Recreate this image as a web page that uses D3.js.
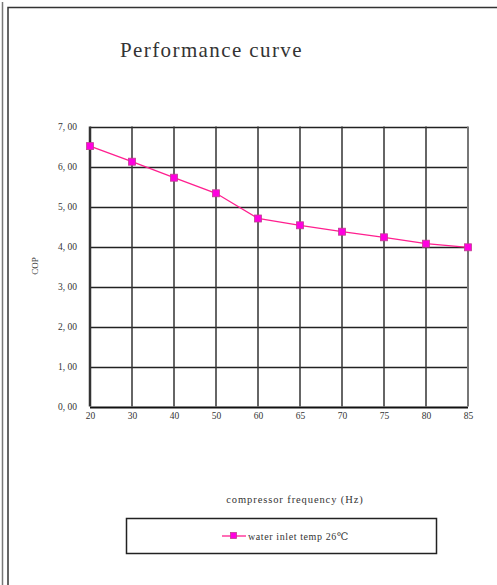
<!DOCTYPE html>
<html><head><meta charset="utf-8">
<script src="https://cdn.jsdelivr.net/npm/d3@7"></script>
<style>body{margin:0;background:#fff}svg{display:block}text{font-family:"Liberation Serif","DejaVu Serif",serif;fill:#333}</style>
</head><body><svg id="c" width="497" height="585"></svg>
<script>
const categories = ["20","30","40","50","60","65","70","75","80","85"];
const copValues = [6.51,6.12,5.72,5.33,4.70,4.53,4.37,4.23,4.07,3.98];
const yTicks = [0,1,2,3,4,5,6,7];
const seriesName = "water inlet temp 26\u2103";

const svg = d3.select("#c");
// frame
svg.append("line").attr("x1",2.5).attr("x2",2.5).attr("y1",2).attr("y2",585).attr("stroke","#777").attr("stroke-width",1.5);
svg.append("path").attr("d","M8,585V7.5H497").attr("fill","none").attr("stroke","#333").attr("stroke-width",1.5);

const L=90,R=468,T=126.5,B=406.5;
const x = d3.scalePoint().domain(categories).range([L,R]);
const y = d3.scaleLinear().domain([0,7]).range([B,T]);

svg.append("text").attr("x",120).attr("y",57).attr("font-size",21).attr("letter-spacing",1.4).text("Performance curve");

const g = svg.append("g");
// horizontal gridlines
g.selectAll("line.h").data(yTicks).join("line").attr("class","h")
 .attr("x1",L).attr("x2",R).attr("y1",d=>Math.round(y(d))+0.5).attr("y2",d=>Math.round(y(d))+0.5)
 .attr("stroke",d=>d===0?"#111":"#222").attr("stroke-width",d=>d===0?2:1.5);
// vertical gridlines
g.selectAll("line.v").data(categories).join("line").attr("class","v")
 .attr("x1",d=>x(d)).attr("x2",d=>x(d)).attr("y1",T).attr("y2",B)
 .attr("stroke",(d,i)=>i===categories.length-1?"#777":"#333").attr("stroke-width",(d,i)=>i===0?2.5:(i===categories.length-1?2:1.5));

// axes labels
const yAxis = d3.axisLeft(y).tickValues(yTicks).tickSize(0).tickPadding(13)
  .tickFormat(d=>d3.format(".2f")(d).replace(".",", "));
const ya = svg.append("g").attr("transform",`translate(${L},0)`).call(yAxis);
ya.select(".domain").remove();
ya.selectAll("text").attr("font-size",9.5).attr("fill","#333").style("font-family","'Liberation Serif',serif");

const xAxis = d3.axisBottom(x).tickSize(0).tickPadding(6);
const xa = svg.append("g").attr("transform",`translate(0,${B})`).call(xAxis);
xa.select(".domain").remove();
xa.selectAll("text").attr("font-size",9.5).attr("fill","#333").style("font-family","'Liberation Serif',serif");

svg.append("text").attr("transform","translate(38,266) rotate(-90)").attr("text-anchor","middle").attr("font-size",9).text("COP");
svg.append("text").attr("x",295).attr("y",503).attr("text-anchor","middle").attr("font-size",10.5).attr("letter-spacing",0.9).text("compressor frequency (Hz)");

// series
const data = categories.map((c,i)=>({c,v:copValues[i]}));
svg.append("path").datum(data).attr("fill","none").attr("stroke","#ff1f8f").attr("stroke-width",1.3)
 .attr("d",d3.line().x(d=>x(d.c)).y(d=>y(d.v)));
svg.selectAll("rect.m").data(data).join("rect").attr("class","m")
 .attr("x",d=>x(d.c)-3.5).attr("y",d=>y(d.v)-3.5).attr("width",7).attr("height",7)
 .attr("fill","#ff00e0").attr("stroke","#c04090").attr("stroke-width",0.8);

// legend
svg.append("rect").attr("x",126.5).attr("y",518.5).attr("width",310).attr("height",35).attr("fill","none").attr("stroke","#222").attr("stroke-width",1.5);
svg.append("line").attr("x1",222).attr("x2",246).attr("y1",536).attr("y2",536).attr("stroke","#ff1f8f").attr("stroke-width",1.3);
svg.append("rect").attr("x",230.5).attr("y",532.5).attr("width",6).attr("height",6).attr("fill","#ff00e0").attr("stroke","#c04090").attr("stroke-width",0.8);
svg.append("text").attr("x",248).attr("y",540).attr("font-size",10).attr("letter-spacing",0.6).text(seriesName);
</script></body></html>
